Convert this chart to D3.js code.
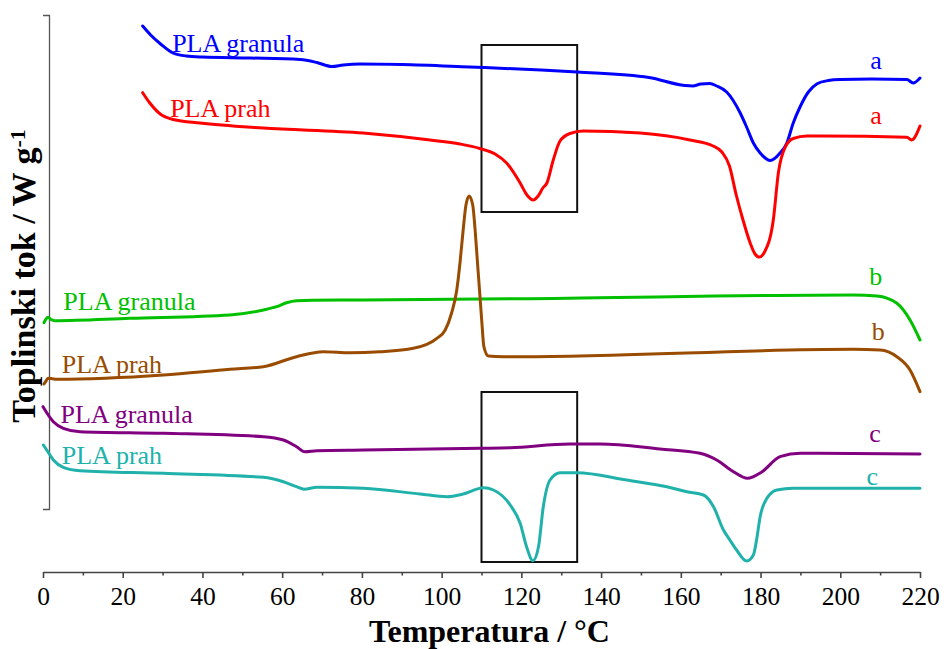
<!DOCTYPE html>
<html>
<head>
<meta charset="utf-8">
<script src="https://cdn.jsdelivr.net/npm/d3@7"></script>
<style>
  html, body { margin: 0; padding: 0; background: #fff; }
  svg { display: block; font-family: "Liberation Serif", "Times New Roman", serif; }
</style>
</head>
<body>
<svg id="chart" width="947" height="649"></svg>
<script>
// ---- Data (temperature in °C, heat flow in arbitrary offset units) ----
const xTicks = [0, 20, 40, 60, 80, 100, 120, 140, 160, 180, 200, 220];
const xMinorTicks = [10, 30, 50, 70, 90, 110, 130, 150, 170, 190, 210];
const xTitle = "Temperatura / °C";
const yTitle = "Toplinski tok / W g";
const yTitleSup = "-1";

const granulaA_T = [25.0, 27, 29.5, 32.6, 36, 40, 52, 64.5, 68.7, 72.4, 75.3, 79.5, 90, 107, 125, 134, 152, 161, 163, 165, 167.3, 169, 171.5, 174.9, 176.5, 178.2, 179.9, 182.4, 184.9, 186.6, 188.2, 189.9, 192, 194.1, 197, 200, 208, 216.7, 218.3, 220];
const granulaA_V = [546, 537, 528, 519, 516, 515, 514, 512.5, 509.5, 505.5, 507, 508, 507.5, 505, 502, 500, 494.5, 486.5, 486, 488, 488.5, 486, 480, 459, 445, 429, 419, 411.5, 419, 429, 449, 465, 480, 488, 491.5, 492.5, 493, 492.5, 489, 494];

const prahA_T = [25.0, 26.8, 29.4, 32.7, 39.4, 55.2, 80.3, 97.1, 104.6, 109.6, 113.4, 116.3, 119.7, 121.4, 123.0, 124.2, 125.4, 126.4, 128.0, 129.7, 132.2, 135.5, 149.8, 162.3, 168.1, 170.3, 172.2, 173.9, 175.6, 177.4, 178.6, 179.7, 181.0, 183.2, 184.5, 186.2, 188.2, 191.6, 195.7, 216.7, 217.9, 220];
const prahA_V = [479.3, 469, 458, 452.5, 449, 444, 439, 432, 428, 423.5, 418, 409, 389, 377, 372, 376, 384, 389, 412, 431, 438.5, 441, 439, 432, 426, 420, 406, 377, 352, 329, 318, 315, 320, 352, 400, 425, 433.5, 436, 436, 434.7, 432, 446];

const granulaB_T = [0.25, 0.6, 1.3, 2.0, 3.0, 21.8, 46.9, 55.3, 58.6, 61.1, 63.6, 67.7, 80.3, 122.2, 203.2, 209.2, 214.2, 217.5, 220];
const granulaB_V = [249.3, 252, 254.7, 252.5, 251.3, 253.7, 257, 262, 265.3, 269.3, 271.3, 271.8, 272, 273.3, 277, 276, 268.7, 252, 232];

const prahB_T = [0.25, 0.75, 1.3, 2.3, 3.4, 30.2, 46.9, 55.3, 63.6, 70.3, 77.0, 84.5, 92.9, 98.8, 100.9, 102.5, 103.8, 104.6, 105.4, 106.1, 106.9, 107.8, 108.4, 109.0, 109.5, 110.1, 110.6, 111.7, 115.4, 119.7, 203.2, 210.0, 214.2, 217.5, 220];
const prahB_V = [188, 191, 193.7, 193.3, 192.7, 197, 202.7, 205.3, 215.3, 220.3, 219.3, 220.3, 223.7, 233.7, 242, 259, 282, 309, 342, 367, 376, 367, 342, 309, 282, 249, 225.3, 216, 215.3, 215.3, 222.7, 222, 215.3, 202, 180.3];

const granulaC_T = [0, 2.6, 5.1, 9.3, 30.2, 55.3, 60.3, 63.6, 65.7, 68.7, 80.4, 109.6, 117.2, 132.2, 139.7, 154.8, 164.8, 169.0, 173.2, 176.7, 180.3, 184.9, 190.0, 220];
const granulaC_V = [165.3, 150.3, 143.7, 140.3, 138.7, 135.3, 132, 125.3, 120.3, 121.3, 122, 123.7, 124.3, 128, 128, 123, 118.7, 112, 100.3, 93.7, 100, 115.3, 118.7, 118];

const prahC_T = [0.1, 1.25, 2.6, 5.1, 9.3, 30.2, 55.3, 60.3, 63.6, 65.5, 68.7, 80.4, 94.6, 101.3, 105.4, 110.5, 113.0, 117.2, 119.7, 121.3, 122.9, 124.3, 125.5, 127.2, 129.7, 133.9, 146.4, 156.5, 161.5, 165.7, 168.2, 170.7, 172.3, 174.0, 176.5, 178.2, 179.0, 179.9, 181.6, 184.1, 188.2, 220];
const prahC_V = [127, 120, 112, 104.7, 101.3, 98.7, 94.7, 90.3, 85.3, 82.7, 84.7, 83.7, 78, 75.3, 78, 84.3, 82, 67, 48.7, 25.3, 11.3, 25.3, 65.3, 92, 99.3, 99.3, 92, 85.3, 80.3, 77, 65.3, 42, 32, 22, 11, 17, 32, 55.3, 73.7, 82, 83.7, 83.7];

const seriesNames = ["PLA granula", "PLA prah", "PLA granula", "PLA prah", "PLA granula", "PLA prah"];
const seriesTags = ["a", "a", "b", "b", "c", "c"];
const seriesColors = ["#0000ff", "#ff0000", "#00c000", "#994c00", "#800080", "#20b2aa"];

// highlight boxes: temperature span, value span
const boxT = [110, 134];
const boxV1 = [360, 527];
const boxV2 = [10, 180];

// ---- Layout ----
const svg = d3.select("#chart");
const x = d3.scaleLinear().domain([0, 220]).range([43, 920]);
const y = d3.scaleLinear().domain([0, 557]).range([572, 15]);

const series = [
  {T: granulaA_T, V: granulaA_V},
  {T: prahA_T, V: prahA_V},
  {T: granulaB_T, V: granulaB_V},
  {T: prahB_T, V: prahB_V},
  {T: granulaC_T, V: granulaC_V},
  {T: prahC_T, V: prahC_V}
];

// label anchor positions in data coordinates
const nameLabelPos = [[32.4, 520], [31.9, 455.3], [5.1, 262], [4.7, 198.7], [4.4, 148.7], [4.7, 108]];
const tagLabelPos = [[207.5, 503], [207.5, 448], [207.3, 287], [207.9, 232], [207.3, 129.7], [206.6, 87]];

// X axis
const xAxis = d3.axisBottom(x).tickValues(xTicks).tickSize(6).tickSizeOuter(0).tickPadding(9).tickFormat(d3.format("d"));
const gx = svg.append("g").attr("transform", `translate(0,${y(0)})`).call(xAxis);
gx.select(".domain").attr("stroke", "#444").attr("stroke-width", 1.6);
gx.selectAll(".tick line").attr("stroke", "#444").attr("stroke-width", 1.6);
gx.selectAll(".tick text").attr("font-family", "Liberation Serif").attr("font-size", 25.5).attr("fill", "#000");
const xMinor = d3.axisBottom(x).tickValues(xMinorTicks).tickSize(3.5).tickFormat("");
const gxm = svg.append("g").attr("transform", `translate(0,${y(0)})`).call(xMinor);
gxm.select(".domain").remove();
gxm.selectAll(".tick line").attr("stroke", "#444").attr("stroke-width", 1.6);

// Y axis (bracket, no ticks)
const yAx = y.copy().domain([63, 557]).range([y(63), y(557)]);
const yAxis = d3.axisLeft(yAx).tickValues([]).tickSizeOuter(6);
const gy = svg.append("g").attr("transform", `translate(49,0)`).call(yAxis);
gy.select(".domain").attr("stroke", "#555").attr("stroke-width", 1.3);

// Boxes
[boxV1, boxV2].forEach(bv => {
  svg.append("rect")
    .attr("x", x(boxT[0])).attr("y", y(bv[1]))
    .attr("width", x(boxT[1]) - x(boxT[0])).attr("height", y(bv[0]) - y(bv[1]))
    .attr("fill", "none").attr("stroke", "#111").attr("stroke-width", 2);
});

// Lines
const line = d3.line().x(d => x(d[0])).y(d => y(d[1])).curve(d3.curveMonotoneX);
series.forEach((s, i) => {
  const pts = s.T.map((t, j) => [t, s.V[j]]);
  svg.append("path").datum(pts)
    .attr("d", line)
    .attr("fill", "none")
    .attr("stroke", seriesColors[i])
    .attr("stroke-width", 3)
    .attr("stroke-linejoin", "round")
    .attr("stroke-linecap", "round");
});

// Labels
seriesNames.forEach((name, i) => {
  svg.append("text")
    .attr("x", x(nameLabelPos[i][0])).attr("y", y(nameLabelPos[i][1]))
    .attr("font-size", 26).attr("fill", seriesColors[i])
    .text(name);
  svg.append("text")
    .attr("x", x(tagLabelPos[i][0])).attr("y", y(tagLabelPos[i][1]))
    .attr("font-size", 26).attr("fill", seriesColors[i])
    .text(seriesTags[i]);
});

// Axis titles
svg.append("text")
  .attr("x", (x(0) + x(220)) / 2 + 8).attr("y", 642)
  .attr("text-anchor", "middle").attr("font-weight", "bold").attr("font-size", 32)
  .text(xTitle);

const yt = svg.append("text")
  .attr("transform", "translate(35,276) rotate(-90)")
  .attr("text-anchor", "middle").attr("font-weight", "bold").attr("font-size", 34);
yt.append("tspan").text(yTitle);
yt.append("tspan").attr("dy", "-0.45em").attr("font-size", 22).text(yTitleSup);
</script>
</body>
</html>
